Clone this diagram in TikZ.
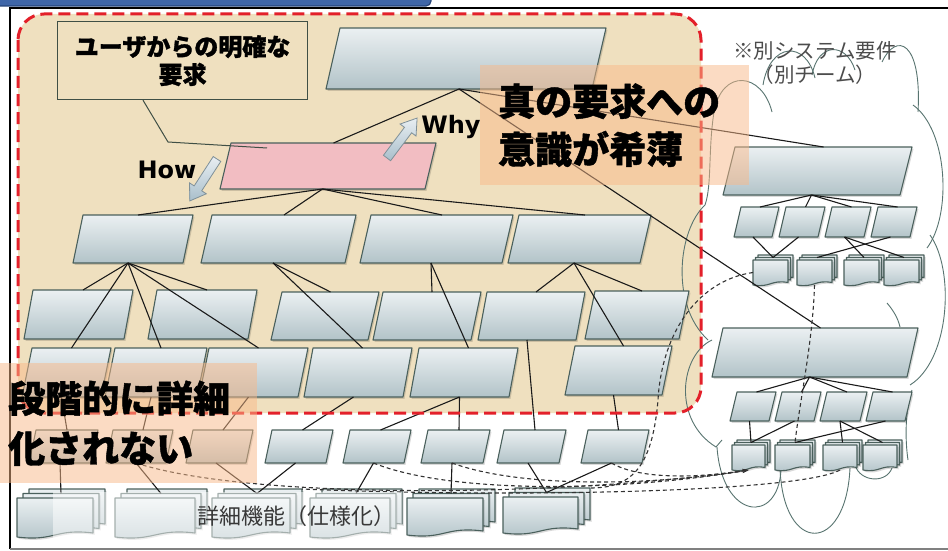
\documentclass[tikz,border=0pt]{standalone}
\usepackage{fontspec}
\newfontfamily\jp{Noto Sans CJK JP}[BoldFeatures={FakeBold=1.2}]
\newfontfamily\jpm{Noto Sans CJK JP}
\newfontfamily\dv{DejaVu Sans}
\usetikzlibrary{arrows.meta}
\definecolor{beige}{HTML}{EFE0BF}
\definecolor{bxtop}{HTML}{EBF0F2}
\definecolor{bxbot}{HTML}{B2C3C8}
\definecolor{bxline}{HTML}{4A605C}
\definecolor{pinkf}{HTML}{F2BDC2}
\definecolor{redd}{HTML}{E3202A}
\definecolor{ovlc}{HTML}{F9B989}
\definecolor{cloudc}{HTML}{587470}
\definecolor{conn}{HTML}{1A1A1A}
\definecolor{dshc}{HTML}{333333}
\definecolor{barblue}{HTML}{3F66A8}
\definecolor{barline}{HTML}{26457A}
\definecolor{tbline}{HTML}{3F4F45}
\definecolor{arrtop}{HTML}{E8EEF2}
\definecolor{arrbot}{HTML}{A9BFCB}
\definecolor{arrline}{HTML}{7F9098}
% parallelogram box: [style]{name}{x top-left}{x top-right}{y top}{y bottom}{slant}
\newcommand\pgram[7][pb]{%
  \path[#1] (#3,#5) -- (#4,#5) -- ({#4-#7},#6) -- ({#3-#7},#6) -- cycle;
  \coordinate (#2-t) at ({(#3+#4)/2},#5);
  \coordinate (#2-b) at ({(#3+#4)/2-#7},#6);
}
% stacked documents: {name}{x1}{x2}{y top}{y bottom}{dx}{dy}{wave}
\newcommand\docstack[8]{%
  \foreach \k in {2,1,0}{%
    \path[pb] ({#2+\k*#6},{#4-\k*#7}) -- ({#3+\k*#6},{#4-\k*#7})
      -- ({#3+\k*#6},{#5-\k*#7-#8})
      .. controls ({(#2+#3)/2+\k*#6},{#5-\k*#7-2.2*#8}) and ({(#2+#3)/2+\k*#6},{#5-\k*#7+1.2*#8}) ..
      ({#2+\k*#6},{#5-\k*#7}) -- cycle;
  }
  \coordinate (#1-t) at ({(#2+#3)/2+#6},{#4-#7});
  \coordinate (#1-b) at ({(#2+#3)/2},#5);
  \coordinate (#1-w) at (#2,{(#4+#5)/2});
  \coordinate (#1-ne) at ({#3+2*#6},{#4-2*#7});
}
% fat arrow: {x}{y}{angle}{length}
\newcommand\fatarrow[4]{%
  \path[draw=arrline, line width=0.8pt, top color=arrtop, bottom color=arrbot, shift={(#1,#2)}, rotate=#3]
    (0,-4.5) -- ({#4-15},-4.5) -- ({#4-15},-10) -- (#4,0) -- ({#4-15},10) -- ({#4-15},4.5) -- (0,4.5) -- cycle;
}
\begin{document}
\begin{tikzpicture}[x=1pt,y=-1pt,
  pb/.style={draw=bxline, line width=1.1pt, top color=bxtop, bottom color=bxbot, line join=round,
    preaction={fill=black, fill opacity=0.15, transform canvas={shift={(1.5pt,-1.8pt)}}}},
  pk/.style={draw=bxline, line width=1.1pt, fill=pinkf, line join=round,
    preaction={fill=black, fill opacity=0.15, transform canvas={shift={(1.5pt,-1.8pt)}}}},
  con/.style={draw=conn, line width=1.1pt},
  dsh/.style={draw=dshc, line width=1.1pt, dash pattern=on 4pt off 3pt},
  cld/.style={draw=cloudc, line width=0.9pt},
  ovl/.style={fill=ovlc, fill opacity=0.5, text opacity=1, anchor=north west, inner ysep=0pt, align=left,
    font=\jp\bfseries\fontsize{37}{48}\selectfont}]
\useasboundingbox (0,0) rectangle (948,551);
\fill[white] (0,0) rectangle (948,551);
% frame and top bar
\draw[barline, fill=barblue, line width=1.2pt, rounded corners=5pt] (-10,-12) rectangle (431,6);
\draw[black, line width=1.6pt] (10,549) -- (10,8) -- (950,8);
\draw[gray, line width=1.6pt] (10,549) -- (950,549);
% beige area
\fill[beige, rounded corners=26pt] (18,14) rectangle (701,413);
% clouds
\draw[cld] (772,112) .. controls (762,72) and (722,68) .. (714,112) .. controls (708,150) and (712,185) .. (705,205)
  .. controls (678,230) and (670,305) .. (708,340);
\draw[cld] (712,340) .. controls (680,355) and (672,420) .. (716,447) -- (722,440);
\draw[cld] (717,447) .. controls (722,520) and (778,525) .. (781,470);
\draw[cld] (780,468) .. controls (783,555) and (846,555) .. (850,468);
\draw[cld] (855,465) .. controls (860,482) and (886,484) .. (892,468);
\draw[cld] (763,85) .. controls (770,42) and (806,40) .. (815,78);
\draw[cld] (812,75) .. controls (818,42) and (846,42) .. (855,70);
\draw[cld] (882,62) .. controls (896,32) and (922,40) .. (918,112);
\draw[cld] (913,105) .. controls (948,130) and (952,215) .. (927,248);
\draw[cld] (930,235) .. controls (955,270) and (950,360) .. (910,385);
\draw[cld] (887,303) .. controls (893,310) and (898,318) .. (900,327);
\draw[cld] (912,390) .. controls (905,410) and (905,440) .. (908,460);
% boxes, upper tree
\pgram{A}{340}{606}{28}{89}{14}
\pgram[pk]{P}{231}{436}{143}{189}{11}
\pgram{L2a}{83}{193}{215}{263}{10}
\pgram{L2b}{212}{356}{215}{263}{11}
\pgram{L2c}{371}{513}{215}{263}{11}
\pgram{L2d}{519}{651}{215}{263}{11}
\pgram{L3a}{33}{133}{290}{339}{9}
\pgram{L3b}{157}{257}{290}{339}{9}
\pgram{L3c}{282}{379}{292}{340}{11}
\pgram{L3d}{383}{481}{292}{340}{10}
\pgram{L3e}{487}{585}{292}{340}{9}
\pgram{L3f}{595}{689}{291}{339}{10}
\pgram{L4a}{32}{111}{348}{397}{10}
\pgram{L4b}{115}{207}{348}{397}{10}
\pgram{L4c}{209}{308}{348}{397}{10}
\pgram{L4d}{313}{412}{348}{397}{9}
\pgram{L4e}{419}{518}{348}{397}{9}
\pgram{L4f}{575}{672}{346}{395}{10}
\pgram{B5a}{36}{98}{430}{463}{7}
\pgram{B5b}{113}{173}{430}{463}{7}
\pgram{B5c}{193}{253}{430}{463}{7}
\pgram{B5d}{272}{333}{430}{463}{7}
\pgram{B5e}{350}{411}{430}{463}{7}
\pgram{B5f}{428}{490}{430}{463}{7}
\pgram{B5g}{504}{566}{430}{463}{7}
\pgram{B5h}{588}{649}{430}{463}{7}
\docstack{S1}{17}{93}{498}{537}{6}{4.5}{4}
\docstack{S2}{115}{195}{498}{537}{6}{4.5}{4}
\docstack{S3}{212}{290}{498}{537}{6}{4.5}{4}
\docstack{S4}{310}{390}{498}{537}{6}{4.5}{4}
\docstack{S5}{407}{483}{498}{535}{6}{4.5}{4}
\docstack{S6}{503}{578}{497}{533}{6}{4.5}{4}
% right subsystem
\pgram{R1}{735}{912}{147}{195}{12}
\pgram{r1a}{741}{779}{207}{237}{7}
\pgram{r1b}{786}{825}{207}{237}{7}
\pgram{r1c}{832}{871}{207}{237}{7}
\pgram{r1d}{878}{917}{207}{237}{7}
\docstack{rs1}{753}{788}{260}{285}{2.5}{2.5}{2.5}
\docstack{rs2}{797}{832}{260}{285}{2.5}{2.5}{2.5}
\docstack{rs3}{844}{879}{260}{285}{2.5}{2.5}{2.5}
\docstack{rs4}{884}{919}{260}{285}{2.5}{2.5}{2.5}
\pgram{R2}{723}{918}{328}{377}{11}
\pgram{r2a}{737}{776}{392}{421}{7}
\pgram{r2b}{782}{821}{392}{421}{7}
\pgram{r2c}{827}{867}{392}{421}{7}
\pgram{r2d}{873}{912}{392}{421}{7}
\docstack{rt1}{732}{765}{445}{470}{2.5}{2.5}{2.5}
\docstack{rt2}{775}{810}{445}{470}{2.5}{2.5}{2.5}
\docstack{rt3}{823}{857}{445}{470}{2.5}{2.5}{2.5}
\docstack{rt4}{863}{897}{445}{470}{2.5}{2.5}{2.5}
% connectors
\foreach \c in {P,R1,R2} \draw[con] (A-b) -- (\c-t);
\foreach \c in {L2a,L2b,L2c,L2d} \draw[con] (P-b) -- (\c-t);
\foreach \c in {L3a,L3b,L4a,L4b,L4c} \draw[con] (L2a-b) -- (\c-t);
\foreach \c in {L3c,L4d} \draw[con] (L2b-b) -- (\c-t);
\foreach \c in {L3d,L4e} \draw[con] (L2c-b) -- (\c-t);
\foreach \c in {L3e,L3f,L4f} \draw[con] (L2d-b) -- (\c-t);
\draw[con] (L4a-b) -- (B5a-t);
\draw[con] (L4b-b) -- (B5b-t);
\draw[con] (L4c-b) -- (B5c-t);
\draw[con] (L4d-b) -- (B5d-t);
\draw[con] (L4e-b) -- (B5e-t);
\draw[con] (L4e-b) -- (B5f-t);
\draw[con] (L3e-b) -- (B5g-t);
\draw[con] (L4f-b) -- (B5h-t);
\draw[con] (B5a-b) -- (S1-t);
\draw[con] (B5b-b) -- (S2-t);
\draw[con] (B5c-b) -- (S3-t);
\draw[con] (B5d-b) -- (S3-t);
\draw[con] (B5e-b) -- (S4-t);
\draw[con] (B5f-b) -- (S5-t);
\draw[con] (B5g-b) -- (S6-t);
\draw[con] (B5h-b) -- (S6-t);
\foreach \c in {r1a,r1b,r1c,r1d} \draw[con] (R1-b) -- (\c-t);
\draw[con] (r1a-b) -- (rs1-t);
\draw[con] (r1b-b) -- (rs1-t);
\draw[con] (r1c-b) -- (rs3-t);
\draw[con] (r1c-b) -- (rs4-t);
\draw[con] (r1d-b) -- (rs2-t);
\foreach \c in {r2a,r2b,r2c,r2d} \draw[con] (R2-b) -- (\c-t);
\draw[con] (r2a-b) -- (rt1-t);
\draw[con] (r2b-b) -- (rt1-t);
\draw[con] (r2c-b) -- (rt3-t);
\draw[con] (r2c-b) -- (rt4-t);
\draw[con] (r2d-b) -- (rt2-t);
% dashed relations
\draw[dsh] (rs1-w) .. controls (700,280) and (662,330) .. (658,400) .. controls (652,470) and (630,488) .. (S6-ne);
\draw[dsh] (rs2-b) .. controls (813,340) and (800,400) .. (rt2-t);
\draw[dsh,-{Stealth[length=6pt,width=4pt]}] (B5b-b) .. controls (250,500) and (560,497) .. (rt1-b);
\draw[dsh,-{Stealth[length=6pt,width=4pt]}] (B5e-b) .. controls (450,494) and (620,492) .. (rt1-b);
\draw[dsh,-{Stealth[length=6pt,width=4pt]}] (B5f-b) .. controls (520,488) and (650,486) .. (rt1-b);
\draw[dsh] (B5h-b) .. controls (640,480) and (700,478) .. (rt1-b);
\draw[dsh] (rt3-b) .. controls (800,492) and (520,498) .. (S3-ne);
% red dashed border
\draw[redd, line width=3pt, dash pattern=on 12pt off 6pt, rounded corners=26pt] (18,14) rectangle (701,413);
% user requirement box and callout
\node[draw=tbline, line width=1.2pt, minimum width=250pt, minimum height=78pt, anchor=north west, align=center,
  inner sep=0pt, font=\jp\bfseries\fontsize{24}{28}\selectfont] (ubox) at (57,21) {ユーザからの明確な\\要求};
\coordinate (P-call) at (267,148);
\draw[tbline, line width=1pt] ([xshift=86pt]ubox.south west) -- (168,142) -- (P-call);
% why / how
\fatarrow{387}{158}{53}{50}
\fatarrow{217}{159}{237}{50}
\node[font=\dv\bfseries\fontsize{24}{24}\selectfont, inner sep=0pt] (why) at (451,127) {Why};
\node[font=\dv\bfseries\fontsize{24}{24}\selectfont, inner sep=0pt] (how) at (167,170) {How};
% other system note
\node[font=\jpm\fontsize{20.5}{24}\selectfont, text=black!70, align=center, inner sep=0pt] (note) at (815,63)
  {※別システム要件\\（別チーム）};
% detailed functions label
\node[fill=white, fill opacity=0.5, text opacity=1, anchor=east, minimum height=48pt, text width=337pt,
  inner xsep=6pt, align=right, font=\jpm\fontsize{22}{24}\selectfont, text=black!78] (detail) at (402,516)
  {詳細機能（仕様化）};
% orange overlays
\node[ovl, inner xsep=18pt, text width=233pt, minimum height=120pt] (weak) at (480,65) {真の要求への\\意識が希薄};
\node[ovl, inner xsep=8pt, text width=241pt, minimum height=120pt, font=\jp\bfseries\fontsize{37}{50}\selectfont]
  (notdet) at (0,363) {段階的に詳細\\化されない};
\end{tikzpicture}
\end{document}
